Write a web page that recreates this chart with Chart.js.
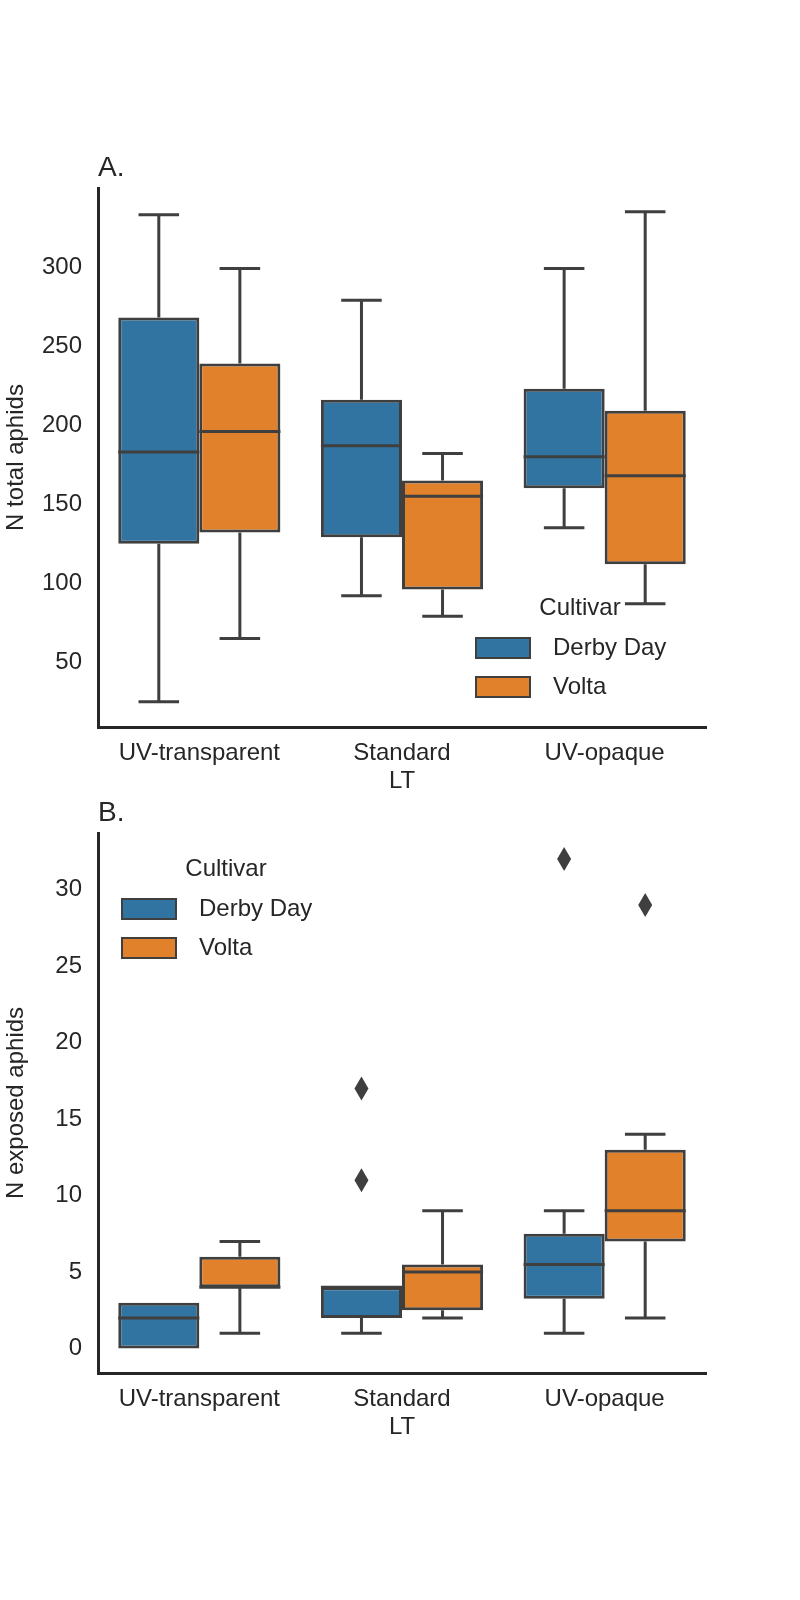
<!DOCTYPE html>
<html>
<head>
<meta charset="utf-8">
<script src="https://cdn.jsdelivr.net/npm/chart.js@4"></script>
<style>
  body { margin: 0; background: #fff; }
  .wrap { position: absolute; left: 0; width: 800px; height: 800px; }
</style>
</head>
<body>
<div class="wrap" style="top:0"><canvas id="chartA"></canvas></div>
<div class="wrap" style="top:800px"><canvas id="chartB"></canvas></div>
<script>
// categories and series: [min whisker, Q1, median, Q3, max whisker]
const cats = ["UV-transparent", "Standard", "UV-opaque"];
const seriesNames = ["Derby Day", "Volta"];
const aDerby = [[25, 125, 183, 268, 333], [92, 129, 187, 216, 279], [135, 160, 180, 223, 299]];
const aVolta = [[65, 132, 196, 239, 299], [79, 96, 155, 165, 182], [87, 112, 168, 209, 335]];
const bDerby = [[0, 0, 2, 3, 3], [1, 2, 4, 4, 4], [1, 3.25, 5.5, 7.5, 9]];
const bVolta = [[1, 4, 4, 6, 7], [2, 2.5, 5, 5.5, 9], [2, 7, 9, 13, 14]];
const bDerbyOut = [[], [11, 17], [32]];
const bVoltaOut = [[], [], [29]];
const aTicks = [50, 100, 150, 200, 250, 300];
const bTicks = [0, 5, 10, 15, 20, 25, 30];

const colors = ["#3274a1", "#e1812c"];
const edge = "#3f3f3f";
const ink = "#262626";
const font = "Arial, 'Liberation Sans', sans-serif";

const boxPlugin = {
  id: "boxes",
  afterDatasetsDraw(chart, args, opts) {
    const ctx = chart.ctx;
    const y = chart.scales.y;
    ctx.save();
    ctx.strokeStyle = edge;
    ctx.fillStyle = edge;
    ctx.lineWidth = 3;
    chart.data.datasets.forEach((ds, di) => {
      const meta = chart.getDatasetMeta(di);
      meta.data.forEach((el, i) => {
        const s = ds.stats[i];
        const x = el.x, w = el.width;
        ctx.beginPath();
        ctx.moveTo(x, y.getPixelForValue(s[3])); ctx.lineTo(x, y.getPixelForValue(s[4]));
        ctx.moveTo(x, y.getPixelForValue(s[1])); ctx.lineTo(x, y.getPixelForValue(s[0]));
        if (s[4] > s[3]) { ctx.moveTo(x - w / 4, y.getPixelForValue(s[4])); ctx.lineTo(x + w / 4, y.getPixelForValue(s[4])); }
        if (s[0] < s[1]) { ctx.moveTo(x - w / 4, y.getPixelForValue(s[0])); ctx.lineTo(x + w / 4, y.getPixelForValue(s[0])); }
        ctx.moveTo(x - w / 2, y.getPixelForValue(s[2])); ctx.lineTo(x + w / 2, y.getPixelForValue(s[2]));
        ctx.stroke();
        (ds.outliers[i] || []).forEach(v => {
          const py = y.getPixelForValue(v);
          ctx.beginPath();
          ctx.moveTo(x, py - 12); ctx.lineTo(x + 7, py); ctx.lineTo(x, py + 12); ctx.lineTo(x - 7, py);
          ctx.closePath(); ctx.fill();
        });
      });
    });
    // panel label
    ctx.fillStyle = ink;
    ctx.font = "28px " + font;
    ctx.textAlign = "left"; ctx.textBaseline = "alphabetic";
    ctx.fillText(opts.label, chart.chartArea.left, chart.chartArea.top - 12);
    // legend
    const lx = opts.legendX, ly = opts.legendY;
    ctx.font = "24px " + font;
    ctx.textAlign = "center"; ctx.textBaseline = "middle";
    ctx.fillText("Cultivar", lx + 104, ly);
    ctx.textAlign = "left";
    seriesNames.forEach((n, k) => {
      const ry = ly + 30 + k * 39;
      ctx.fillStyle = colors[k];
      ctx.fillRect(lx, ry, 54, 20);
      ctx.strokeStyle = edge; ctx.lineWidth = 2;
      ctx.strokeRect(lx, ry, 54, 20);
      ctx.fillStyle = ink;
      ctx.fillText(n, lx + 77, ry + 10);
    });
    ctx.restore();
  }
};

function makeChart(id, derby, volta, derbyOut, voltaOut, ticks, ymin, ymax, title, label, padTop, padBottom, legendX, legendY) {
  new Chart(document.getElementById(id), {
    type: "bar",
    data: {
      labels: cats,
      datasets: [
        { label: seriesNames[0], data: derby.map(s => [s[1], s[3]]), stats: derby, outliers: derbyOut,
          backgroundColor: colors[0], borderColor: edge, borderWidth: 3, borderSkipped: false },
        { label: seriesNames[1], data: volta.map(s => [s[1], s[3]]), stats: volta, outliers: voltaOut,
          backgroundColor: colors[1], borderColor: edge, borderWidth: 3, borderSkipped: false }
      ]
    },
    options: {
      responsive: false, animation: false, events: [],
      layout: { padding: { top: padTop, bottom: padBottom, left: 0, right: 94 } },
      datasets: { bar: { categoryPercentage: 0.8, barPercentage: 1.0 } },
      plugins: { legend: { display: false }, tooltip: { enabled: false },
        boxes: { label: label, legendX: legendX, legendY: legendY } },
      scales: {
        x: {
          grid: { display: false },
          border: { display: true, color: ink, width: 3 },
          ticks: { color: ink, font: { size: 24, family: font }, padding: 4 },
          title: { display: true, text: "LT", color: ink, font: { size: 24, family: font }, padding: 4 },
          afterFit(s) { s.height = 73; }
        },
        y: {
          min: ymin, max: ymax,
          grid: { display: false },
          border: { display: true, color: ink, width: 3 },
          ticks: { color: ink, font: { size: 24, family: font }, padding: 8 },
          afterBuildTicks(s) { s.ticks = ticks.map(v => ({ value: v })); },
          title: { display: true, text: title, color: ink, font: { size: 24, family: font }, padding: 2 },
          afterFit(s) { s.width = 98; }
        }
      }
    },
    plugins: [boxPlugin]
  });
}

document.getElementById("chartA").width = 800; document.getElementById("chartA").height = 800;
document.getElementById("chartB").width = 800; document.getElementById("chartB").height = 800;

makeChart("chartA", aDerby, aVolta, [[], [], []], [[], [], []], aTicks, 9, 350,
  "N total aphids", "A.", 188, 0, 476, 608);
makeChart("chartB", bDerby, bVolta, bDerbyOut, bVoltaOut, bTicks, -1.6, 33.7,
  "N exposed aphids", "B.", 33, 154, 122, 69);
</script>
</body>
</html>
